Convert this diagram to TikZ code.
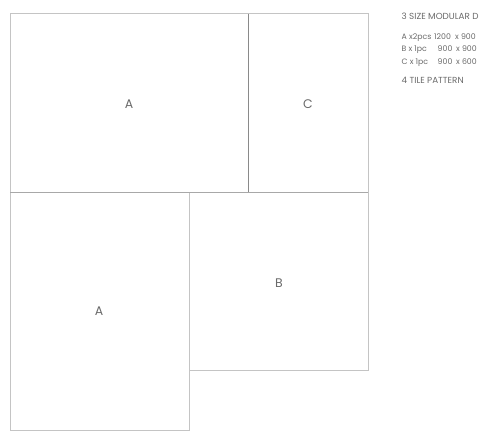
\documentclass[tikz,border=0pt]{standalone}
\usepackage{fontspec}
\setmainfont{Poppins}
\definecolor{edge}{HTML}{C4C4C4}
\definecolor{edgemid}{HTML}{A8A8A8}
\definecolor{edgedark}{HTML}{8A8A8A}
\definecolor{txt}{HTML}{6A6A6A}
\begin{document}
\begin{tikzpicture}[x=1pt,y=-1pt,
  tile/.style={draw=edge,line width=1pt},
  tilelabel/.style={text=txt,font=\fontsize{12.5}{14}\selectfont,inner sep=0pt},
  note/.style={text=txt,font=\fontsize{7.8}{9}\selectfont,anchor=base west,inner sep=0pt},
  capsnote/.style={note,font=\fontsize{8.8}{10}\selectfont}]
\useasboundingbox (0,0) rectangle (492,441);
% tiles
\draw[tile] (10,14) rectangle (368,192);
\draw[tile] (10,192) rectangle (189,430);
\draw[tile] (189,192) rectangle (368,370);
\draw[draw=edgemid,line width=1pt] (10,192) -- (368,192);
\draw[draw=edgedark,line width=1pt] (248,14) -- (248,192);
% labels
\node[tilelabel] (la1) at (129,104) {A};
\node[tilelabel] (lc) at (308,104) {C};
\node[tilelabel] (lb) at (279,283) {B};
\node[tilelabel] (la2) at (99,311) {A};
% notes
\node[capsnote] (t0) at (401.5,19.5) {3 SIZE MODULAR D};
\node[note] (ta1) at (401.5,39.5) {A x2pcs};
\node[note] (ta2) at (434,39.5) {1200};
\node[note] (ta3) at (455,39.5) {x 900};
\node[note] (tb1) at (401.5,52) {B x 1pc};
\node[note] (tb2) at (437.5,52) {900};
\node[note] (tb3) at (456,52) {x 900};
\node[note] (tc1) at (401.5,64.5) {C x 1pc};
\node[note] (tc2) at (437.5,64.5) {900};
\node[note] (tc3) at (456,64.5) {x 600};
\node[capsnote] (tp) at (401.5,83.5) {4 TILE PATTERN};
\end{tikzpicture}
\end{document}
